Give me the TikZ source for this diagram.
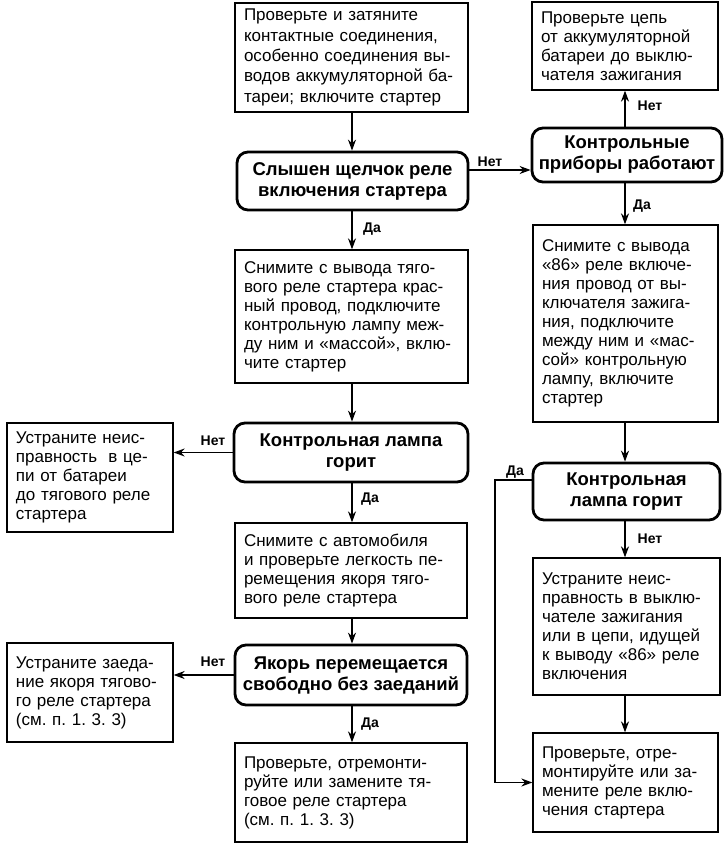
\documentclass[tikz,border=0pt]{standalone}
\usepackage{fontspec}
\setmainfont{Liberation Sans}
\usetikzlibrary{arrows.meta}
\frenchspacing
\tikzset{
  txtbox/.style={draw, line width=1.3pt, inner xsep=9pt, inner ysep=4pt, align=left,
    font=\fontsize{17}{19}\selectfont},
  decide/.style={draw, line width=2.8pt, rounded corners=11pt, align=center, inner sep=3pt,
    font=\fontsize{18.5}{21}\selectfont\bfseries},
  conn/.style={line width=1.4pt, -{Stealth[length=11pt,width=8pt]}},
  lbl/.style={font=\fontsize{14}{14}\selectfont\bfseries, inner sep=0pt}
}
\begin{document}
\begin{tikzpicture}[x=1pt,y=-1pt]
\useasboundingbox (0,0) rectangle (725,848);
% left/center column
\node[txtbox, font=\fontsize{17}{20.3}\selectfont, minimum width=233pt, minimum height=109pt, text width=215pt] (b1) at (351.5,57.5)
 {Проверьте и затяните\\контактные соединения,\\особенно соединения вы-\\водов аккумуляторной ба-\\тареи; включите стартер};
\node[decide, minimum width=231pt, minimum height=58pt] (d1) at (352.5,181)
 {Слышен щелчок реле\\включения стартера};
\node[txtbox, minimum width=233pt, minimum height=133pt, text width=215pt] (b4) at (351.5,316.5)
 {Снимите с вывода тяго-\\вого реле стартера крас-\\ный провод, подключите\\контрольную лампу меж-\\ду ним и «массой», вклю-\\чите стартер};
\node[decide, minimum width=234pt, minimum height=59pt] (d3) at (351,452.5)
 {Контрольная лампа\\горит};
\node[txtbox, minimum width=166pt, minimum height=109pt, text width=148pt] (b5) at (90,477.5)
 {Устраните неис-\\правность \ в це-\\пи от батареи\\до тягового реле\\стартера};
\node[txtbox, minimum width=232pt, minimum height=95pt, text width=214pt] (b6) at (351,570.5)
 {Снимите с автомобиля\\и проверьте легкость пе-\\ремещения якоря тяго-\\вого реле стартера};
\node[decide, minimum width=232pt, minimum height=60pt] (d5) at (351,675)
 {Якорь перемещается\\свободно без заеданий};
\node[txtbox, minimum width=166pt, minimum height=99pt, text width=148pt] (b7) at (90,692.5)
 {Устраните заеда-\\ние якоря тягово-\\го реле стартера\\(см. п. 1. 3. 3)};
\node[txtbox, minimum width=232pt, minimum height=99pt, text width=214pt] (b8) at (351,792.5)
 {Проверьте, отремонти-\\руйте или замените тя-\\говое реле стартера\\(см. п. 1. 3. 3)};
% right column
\node[txtbox, minimum width=186pt, minimum height=88pt, text width=168pt] (b2) at (625,46)
 {Проверьте цепь\\от аккумуляторной\\батареи до выклю-\\чателя зажигания};
\node[decide, minimum width=190pt, minimum height=54pt] (d2) at (627,155)
 {Контрольные\\приборы работают};
\node[txtbox, minimum width=185pt, minimum height=197pt, text width=167pt] (b3) at (625.5,323.5)
 {Снимите с вывода\\«86» реле включе-\\ния провод от вы-\\ключателя зажига-\\ния, подключите\\между ним и «мас-\\сой» контрольную\\лампу, включите\\стартер};
\node[decide, minimum width=187pt, minimum height=57pt] (d4) at (626.5,491.5)
 {Контрольная\\лампа горит};
\node[txtbox, minimum width=187pt, minimum height=137pt, text width=169pt] (b9) at (626.5,626.5)
 {Устраните неис-\\правность в выклю-\\чателе зажигания\\или в цепи, идущей\\к выводу «86» реле\\включения};
\node[txtbox, minimum width=185pt, minimum height=99pt, text width=167pt] (b10) at (625.5,782.5)
 {Проверьте, отре-\\монтируйте или за-\\мените реле вклю-\\чения стартера};
% helper coordinates
\coordinate (h1) at (500,170);
\coordinate (j1) at (495,480);
\coordinate (v2) at (625,0);
\coordinate (v1) at (352,0);
% connectors
\draw[conn] (b1.south -| v1) -- (d1.north -| v1);
\draw[conn] (d1.south -| v1) -- (b4.north -| v1);
\draw[conn] (b4.south -| v1) -- (d3.north -| v1);
\draw[conn] (d3.south -| v1) -- (b6.north -| v1);
\draw[conn] (b6.south -| v1) -- (d5.north -| v1);
\draw[conn] (d5.south -| v1) -- (b8.north -| v1);
\draw[conn] (d3.west) -- (d3.west -| b5.east);
\draw[conn] (d5.west) -- (d5.west -| b7.east);
\draw[conn] (d1.east |- h1) -- (d2.west |- h1);
\draw[conn] (d2.north -| v2) -- (b2.south -| v2);
\draw[conn] (d2.south -| v2) -- (b3.north -| v2);
\draw[conn] (b3.south -| v2) -- (d4.north -| v2);
\draw[conn] (d4.south -| v2) -- (b9.north -| v2);
\draw[conn] (b9.south -| v2) -- (b10.north -| v2);
\draw[conn] (d4.west |- j1) -- (j1) |- (b10.west);
% labels
\node[lbl] (l1) at (490,162) {Нет};
\node[lbl] (l2) at (650,106) {Нет};
\node[lbl] (l3) at (642,206) {Да};
\node[lbl] (l4) at (372,229) {Да};
\node[lbl] (l5) at (213,441) {Нет};
\node[lbl] (l6) at (370,499) {Да};
\node[lbl] (l7) at (213,662) {Нет};
\node[lbl] (l8) at (370,724) {Да};
\node[lbl] (l9) at (515,472) {Да};
\node[lbl] (l10) at (650,539) {Нет};
\end{tikzpicture}
\end{document}
